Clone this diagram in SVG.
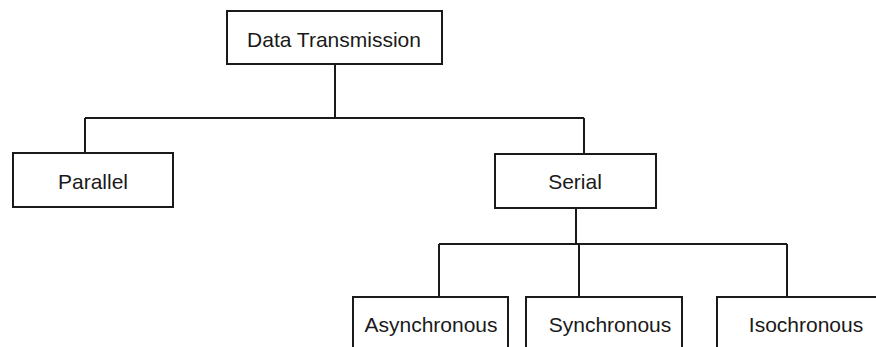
<svg xmlns="http://www.w3.org/2000/svg" width="876" height="347" viewBox="0 0 876 347">
<style>
.box{fill:#fff;stroke:#1a1a1a;stroke-width:2}
.lbl{font-family:"Liberation Sans",Arial,sans-serif;font-size:21px;fill:#1a1a1a;text-anchor:middle}
.con{fill:none;stroke:#1a1a1a;stroke-width:2}
</style>
<rect width="876" height="347" fill="#fff"/>
<g id="connectors">
<path class="con" d="M335,64 V118 M85,118 H584 M85,118 V153 M584,118 V154"/>
<path class="con" d="M576,208 V244 M439,244 H787 M439,244 V297 M579,244 V297 M787,244 V297"/>
</g>
<g id="n-data"><rect class="box" x="227" y="11" width="215" height="53"/><text class="lbl" x="334" y="47">Data Transmission</text></g>
<g id="n-parallel"><rect class="box" x="13" y="153" width="160" height="54"/><text class="lbl" x="93" y="189">Parallel</text></g>
<g id="n-serial"><rect class="box" x="495" y="154" width="161" height="54"/><text class="lbl" x="575" y="189">Serial</text></g>
<g id="n-async"><rect class="box" x="353" y="297" width="155" height="60"/><text class="lbl" x="431" y="332">Asynchronous</text></g>
<g id="n-sync"><rect class="box" x="526" y="297" width="156" height="60"/><text class="lbl" x="610" y="332">Synchronous</text></g>
<g id="n-iso"><rect class="box" x="717" y="297" width="170" height="60"/><text class="lbl" x="806" y="332">Isochronous</text></g>
</svg>
